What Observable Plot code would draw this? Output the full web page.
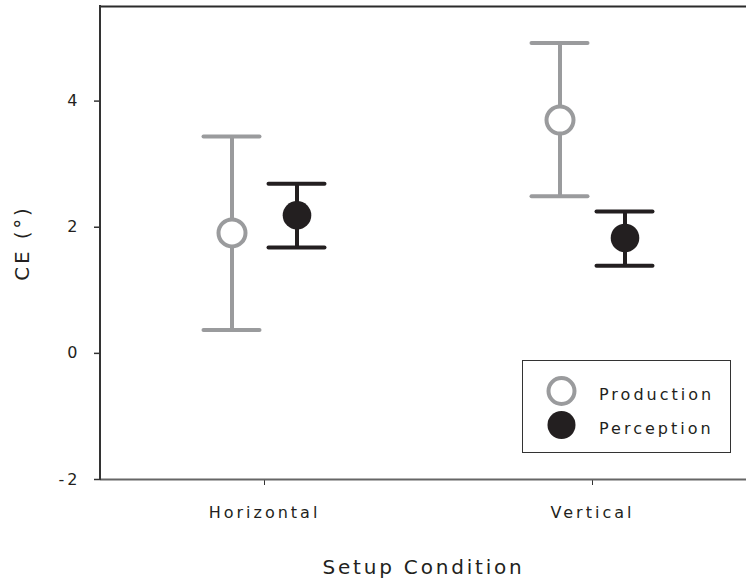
<!DOCTYPE html>
<html>
<head>
<meta charset="utf-8">
<script src="https://cdn.jsdelivr.net/npm/d3@7"></script>
<script src="https://cdn.jsdelivr.net/npm/@observablehq/plot@0.6"></script>
<style>
  html, body { margin: 0; padding: 0; background: #fff; }
  #chart { position: relative; width: 746px; height: 586px; font-family: "DejaVu Sans", sans-serif; }
  #chart svg text { letter-spacing: 3px; fill: #231f20; }
  #chart g[aria-label="x-axis label"] text,
  #chart g[aria-label="y-axis label"] text { font-size: 20px; letter-spacing: 2.8px; }
  .legend {
    position: absolute; left: 522px; top: 360px; width: 207px; height: 91px;
    border: 1.5px solid #333; background: #fff; box-sizing: content-box;
  }
  .legend svg { position: absolute; left: 0; top: 0; }
  .legend svg text { font-family: "DejaVu Sans", sans-serif; font-size: 16px; letter-spacing: 3px; fill: #231f20; }
</style>
</head>
<body>
<div id="chart"></div>
<script>
// Constant error (CE, degrees) by setup condition, means with error bars
const conditions = ["Horizontal", "Vertical"];
const productionMean = [1.91, 3.70];
const productionLow = [0.37, 2.49];
const productionHigh = [3.44, 4.92];
const perceptionMean = [2.19, 1.83];
const perceptionLow = [1.68, 1.39];
const perceptionHigh = [2.69, 2.25];
const yTicks = [-2, 0, 2, 4];
const seriesNames = ["Production", "Perception"];

const gray = "#9a9b9d";
const black = "#231f20";

const production = conditions.map((c, i) => ({condition: c, mean: productionMean[i], low: productionLow[i], high: productionHigh[i]}));
const perception = conditions.map((c, i) => ({condition: c, mean: perceptionMean[i], low: perceptionLow[i], high: perceptionHigh[i]}));

// error bar: vertical whisker plus a cap at each end
function errorBar(data, dx, color) {
  const capHalf = -28;
  return [
    Plot.ruleX(data, {x: "condition", y1: "low", y2: "high", dx, stroke: color, strokeWidth: 4}),
    Plot.ruleY(data, {x1: "condition", x2: "condition", y: "high", dx, insetLeft: capHalf, insetRight: capHalf,
      stroke: color, strokeWidth: 4, strokeLinecap: "round"}),
    Plot.ruleY(data, {x1: "condition", x2: "condition", y: "low", dx, insetLeft: capHalf, insetRight: capHalf,
      stroke: color, strokeWidth: 4, strokeLinecap: "round"})
  ];
}

const chart = Plot.plot({
  width: 746,
  height: 586,
  marginLeft: 100,
  marginRight: 0,
  marginTop: 6,
  marginBottom: 107,
  style: {fontFamily: "DejaVu Sans, sans-serif", fontSize: "16px", background: "#fff", color: "#333"},
  x: {type: "point", domain: conditions, padding: 0.482, align: 0.517},
  y: {domain: [-2, 5.5]},
  marks: [
    Plot.axisY(yTicks, {tickSize: 6, tickPadding: 14, tickFormat: d => String(d), strokeWidth: 1.5,
      label: "CE (°)", labelAnchor: "center", labelOffset: 86, labelArrow: "none"}),
    Plot.axisX({tickSize: 6, tickPadding: 21, strokeWidth: 1,
      label: "Setup Condition", labelAnchor: "center", labelOffset: 94, labelArrow: "none"}),
    Plot.ruleY([5.5], {stroke: "#2b2b2b", strokeWidth: 2}),
    Plot.ruleY([-2], {stroke: "#666", strokeWidth: 2}),
    ...errorBar(production, -32.5, gray),
    ...errorBar(perception, 32.5, black),
    Plot.dot(production, {x: "condition", y: "mean", dx: -32.5, r: 13.5, fill: "#fff", stroke: gray, strokeWidth: 4}),
    Plot.dot(perception, {x: "condition", y: "mean", dx: 32.5, r: 14.3, fill: black, stroke: "none"})
  ]
});

const root = document.getElementById("chart");
root.appendChild(chart);

// left axis line along the start of the x range, spanning the y range
const xRange = chart.scale("x").range;
const yRange = chart.scale("y").range;
d3.select(chart).append("line")
  .attr("x1", xRange[0]).attr("x2", xRange[0])
  .attr("y1", yRange[0] + 1).attr("y2", yRange[1] - 1)
  .attr("stroke", "#333").attr("stroke-width", 2);

// legend box inside the plot area
const legend = document.createElement("div");
legend.className = "legend";
root.appendChild(legend);
const ls = d3.select(legend).append("svg").attr("width", 207).attr("height", 91);
const rows = ls.selectAll("g").data(seriesNames).join("g")
  .attr("transform", (d, i) => `translate(0, ${30 + i * 34})`);
rows.append("circle")
  .attr("cx", 38.5).attr("cy", 0)
  .attr("r", (d, i) => i === 0 ? 13 : 14)
  .attr("fill", (d, i) => i === 0 ? "#fff" : black)
  .attr("stroke", (d, i) => i === 0 ? gray : "none")
  .attr("stroke-width", 4);
rows.append("text")
  .attr("x", 76).attr("y", 9)
  .text(d => d);
</script>
</body>
</html>
